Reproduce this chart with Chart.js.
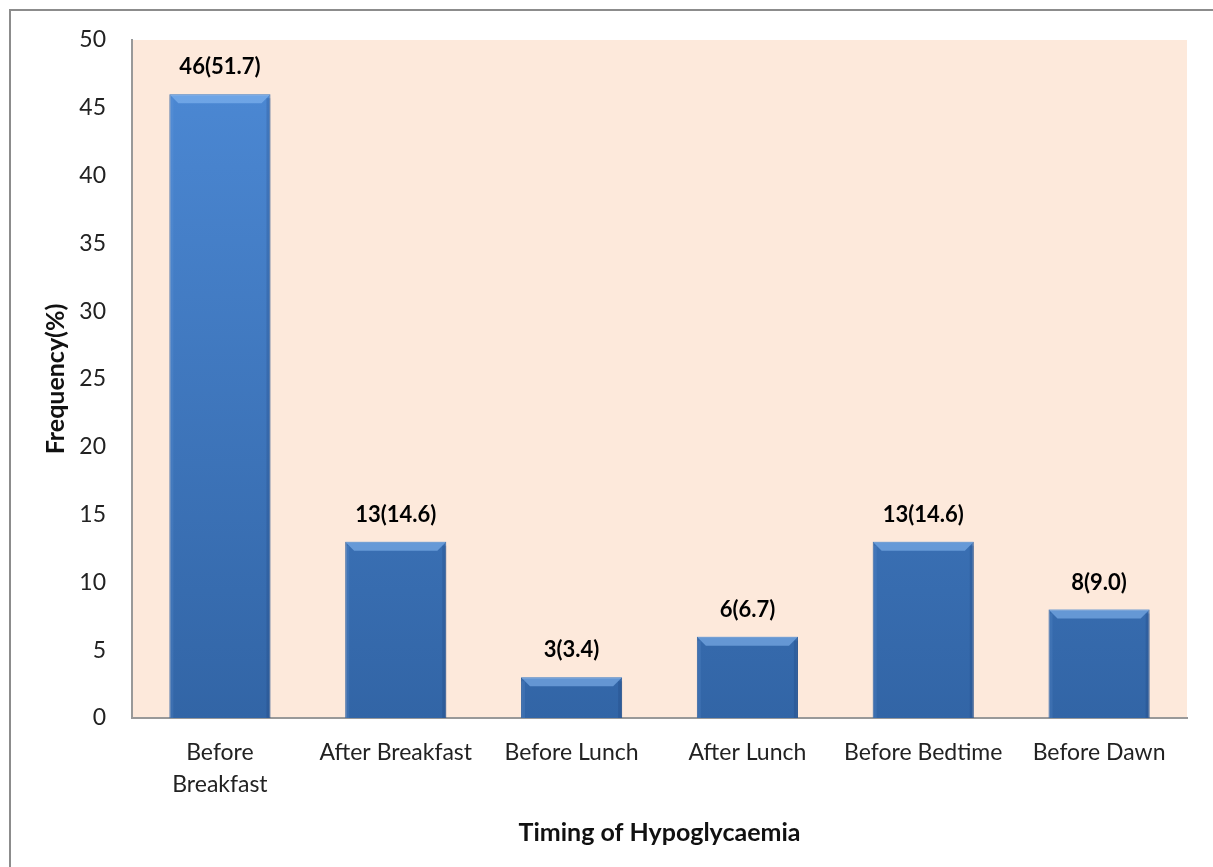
<!DOCTYPE html>
<html>
<head>
<meta charset="utf-8">
<script src="https://cdn.jsdelivr.net/npm/chart.js@4.4.1/dist/chart.umd.min.js"></script>
<style>
  html, body { margin: 0; padding: 0; background: #fff; }
  #wrap { width: 1213px; height: 867px; }
</style>
</head>
<body>
<div id="wrap"><canvas id="myChart" width="1213" height="867"></canvas></div>
<script>
var categories = [["Before", "Breakfast"], "After Breakfast", "Before Lunch", "After Lunch", "Before Bedtime", "Before Dawn"];
var frequency = [46, 13, 3, 6, 13, 8];
var percent = ["51.7", "14.6", "3.4", "6.7", "14.6", "9.0"];
var yTicks = [0, 5, 10, 15, 20, 25, 30, 35, 40, 45, 50];

var fontFam = "Lato, 'Open Sans', sans-serif";

// frame + peach plot background
var backdrop = {
    id: 'backdrop',
    beforeDraw: function(chart) {
        var ctx = chart.ctx, a = chart.chartArea;
        ctx.save();
        ctx.strokeStyle = '#8c8c8c';
        ctx.lineWidth = 2;
        ctx.strokeRect(10, 10, 1230, 890);
        ctx.fillStyle = '#fde9db';
        ctx.fillRect(a.left, a.top, a.right - a.left, a.bottom - a.top);
        ctx.restore();
    }
};

// bevel on bar tops + "n(%)" labels
var barLabels = {
    id: 'barLabels',
    afterDatasetsDraw: function(chart) {
        var ctx = chart.ctx;
        var meta = chart.getDatasetMeta(0);
        ctx.save();
        meta.data.forEach(function(bar) {
            var l = bar.x - bar.width / 2, r = bar.x + bar.width / 2;
            var t = bar.y, b = bar.base, d = 9;
            ctx.fillStyle = 'rgba(140,190,245,0.55)';
            ctx.beginPath();
            ctx.moveTo(l, t); ctx.lineTo(r, t); ctx.lineTo(r - d, t + d); ctx.lineTo(l + d, t + d);
            ctx.closePath(); ctx.fill();
            ctx.fillStyle = 'rgba(20,50,100,0.18)';
            ctx.fillRect(r - 4, t + 4, 4, b - t - 4);
            ctx.fillStyle = 'rgba(120,170,230,0.15)';
            ctx.fillRect(l, t + 4, 4, b - t - 4);
        });
        ctx.font = "bold 22px " + fontFam;
        ctx.fillStyle = '#000';
        ctx.textAlign = 'center';
        ctx.textBaseline = 'middle';
        meta.data.forEach(function(bar, i) {
            ctx.fillText(frequency[i] + '(' + percent[i] + ')', bar.x, bar.y - 27);
        });
        ctx.restore();
    }
};

function barFill(context) {
    var chart = context.chart;
    var a = chart.chartArea;
    if (!a) return '#3f78c0';
    var g = chart.ctx.createLinearGradient(0, a.top, 0, a.bottom);
    g.addColorStop(0, '#4d8ad6');
    g.addColorStop(1, '#3265a6');
    return g;
}

new Chart(document.getElementById("myChart"), {
    type: 'bar',
    data: {
        labels: categories,
        datasets: [{
            data: frequency,
            backgroundColor: barFill,
            borderColor: '#2f5d99',
            borderWidth: 1,
            barPercentage: 0.575,
            categoryPercentage: 1
        }]
    },
    plugins: [backdrop, barLabels],
    options: {
        responsive: false,
        animation: false,
        layout: { padding: { left: 30, right: 26, top: 40, bottom: 0 } },
        plugins: {
            legend: { display: false },
            tooltip: { enabled: false }
        },
        scales: {
            x: {
                grid: { display: false },
                border: { display: true, color: '#999', width: 2 },
                ticks: {
                    color: '#222',
                    font: { family: fontFam, size: 23, lineHeight: 1.38 },
                    padding: 11,
                    maxRotation: 0,
                    autoSkip: false
                },
                title: {
                    display: true,
                    text: 'Timing of Hypoglycaemia',
                    color: '#111',
                    font: { family: fontFam, size: 25, weight: 'bold' },
                    padding: { top: 0, bottom: 19 }
                },
                afterFit: function(scale) { scale.height = 867 - 718; }
            },
            y: {
                min: 0,
                max: 50,
                afterBuildTicks: function(scale) {
                    scale.ticks = yTicks.map(function(v) { return { value: v }; });
                },
                grid: { display: false },
                border: { display: true, color: '#999', width: 2 },
                ticks: {
                    color: '#222',
                    font: { family: fontFam, size: 23 },
                    padding: 18
                },
                title: {
                    display: true,
                    text: 'Frequency(%)',
                    color: '#111',
                    font: { family: fontFam, size: 25, weight: 'bold' },
                    padding: { top: 11, bottom: 0 }
                },
                afterFit: function(scale) { scale.width = 132 - 30; }
            }
        }
    }
});
</script>
</body>
</html>
